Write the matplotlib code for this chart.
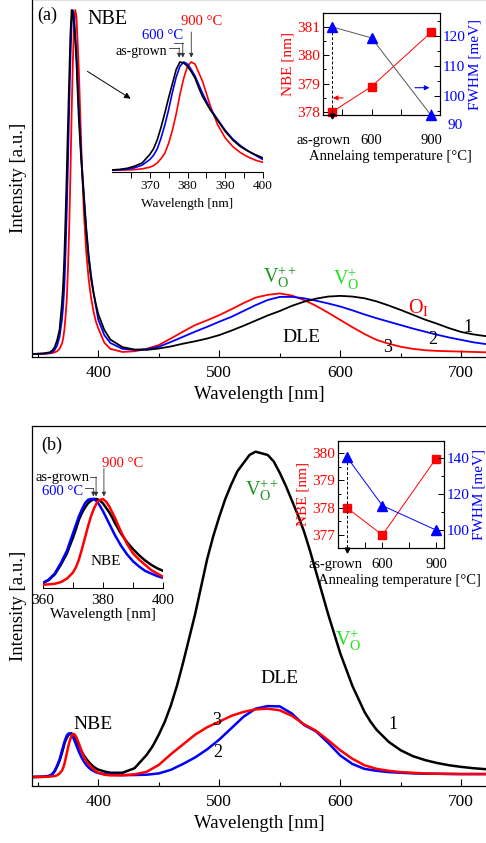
import numpy as np
import matplotlib
matplotlib.use('Agg')
import matplotlib.pyplot as plt
from matplotlib.ticker import MultipleLocator, FixedLocator
from matplotlib.transforms import blended_transform_factory, ScaledTranslation

plt.rcParams['font.family'] = ['Liberation Serif', 'DejaVu Serif']
plt.rcParams['mathtext.fontset'] = 'custom'
plt.rcParams['mathtext.rm'] = 'Liberation Serif'
plt.rcParams['mathtext.it'] = 'Liberation Serif:italic'

# ---------------- data ----------------
# NBE region (normalised), shared by main panels and the zoomed insets
nbe_wl = [346, 355, 360, 362, 364, 366, 368, 370, 371, 372, 373, 374, 375, 376, 377, 378,
          379, 380, 381, 382, 383, 384, 385, 386, 388, 390, 392, 394, 396, 398, 400]
nbe_a_black = [0, 0.002, 0.005, 0.01, 0.02, 0.04, 0.07, 0.147, 0.2, 0.284, 0.4, 0.53, 0.67, 0.8, 0.93, 1.0,
               0.99, 0.96, 0.91, 0.85, 0.76, 0.68, 0.62, 0.56, 0.46, 0.36, 0.28, 0.22, 0.18, 0.145, 0.116]
nbe_a_blue = [0, 0.001, 0.003, 0.006, 0.012, 0.025, 0.05, 0.1, 0.14, 0.2, 0.3, 0.42, 0.56, 0.72, 0.86, 0.96,
              1.0, 0.98, 0.93, 0.87, 0.79, 0.71, 0.64, 0.57, 0.47, 0.37, 0.29, 0.23, 0.18, 0.14, 0.1]
nbe_a_red = [0, 0, 0.002, 0.003, 0.005, 0.008, 0.015, 0.03, 0.045, 0.07, 0.11, 0.16, 0.25, 0.37, 0.52, 0.7,
             0.85, 0.96, 1.0, 0.98, 0.9, 0.82, 0.71, 0.6, 0.42, 0.3, 0.22, 0.165, 0.125, 0.095, 0.075]

nbe_b_black = [0, 0.005, 0.027, 0.065, 0.13, 0.24, 0.37, 0.55, 0.65, 0.76, 0.84, 0.9, 0.95, 0.98, 1.0, 1.0,
               0.98, 0.95, 0.9, 0.85, 0.79, 0.72, 0.66, 0.6, 0.5, 0.42, 0.35, 0.29, 0.24, 0.2, 0.17]
nbe_b_blue = [0, 0.006, 0.03, 0.07, 0.14, 0.26, 0.4, 0.6, 0.7, 0.8, 0.88, 0.95, 0.99, 1.0, 1.0, 0.97,
              0.92, 0.86, 0.79, 0.72, 0.65, 0.58, 0.52, 0.46, 0.36, 0.28, 0.22, 0.17, 0.14, 0.11, 0.09]
nbe_b_red = [0, 0.002, 0.01, 0.015, 0.022, 0.04, 0.08, 0.15, 0.21, 0.3, 0.42, 0.55, 0.68, 0.8, 0.89, 0.96,
             0.99, 1.0, 0.97, 0.92, 0.85, 0.78, 0.7, 0.62, 0.48, 0.37, 0.3, 0.24, 0.18, 0.14, 0.1]
# NBE peak heights in panel (b) relative to the DLE maximum of sample 1
nbe_b_peak = {'black': 0.134, 'blue': 0.134, 'red': 0.132}

# DLE region
dle_wl = [405, 410, 420, 430, 440, 450, 460, 470, 480, 490, 500, 510, 520, 530, 540, 550, 560,
          570, 580, 590, 600, 610, 620, 630, 640, 650, 660, 670, 680, 690, 700, 710, 720]
dle_a_black = [0.07, 0.042, 0.02, 0.013, 0.012, 0.016, 0.022, 0.03, 0.037, 0.045, 0.055, 0.068, 0.082, 0.097,
               0.112, 0.125, 0.14, 0.152, 0.161, 0.167, 0.169, 0.167, 0.162, 0.153, 0.141, 0.128, 0.114,
               0.1, 0.088, 0.075, 0.064, 0.057, 0.052]
dle_a_blue = [0.055, 0.032, 0.015, 0.012, 0.014, 0.021, 0.035, 0.05, 0.065, 0.079, 0.094, 0.108, 0.125, 0.142,
              0.157, 0.166, 0.166, 0.162, 0.155, 0.147, 0.138, 0.127, 0.115, 0.104, 0.094, 0.084, 0.074,
              0.065, 0.056, 0.048, 0.041, 0.034, 0.029]
dle_a_red = [0.033, 0.015, 0.006, 0.008, 0.015, 0.026, 0.045, 0.065, 0.084, 0.098, 0.113, 0.13, 0.148, 0.164,
             0.172, 0.176, 0.17, 0.157, 0.14, 0.12, 0.099, 0.078, 0.058, 0.041, 0.03, 0.021, 0.015,
             0.011, 0.009, 0.008, 0.007, 0.006, 0.005]

# panel (b) sample 1 has a big DLE band, read every 5 nm
dle_b_black_wl = [405, 410, 420, 430, 440, 445, 450, 455, 460, 465, 470, 475, 480, 485, 490, 495, 500,
                  505, 510, 515, 520, 525, 530, 535, 540, 545, 550, 555, 560, 565, 570, 575, 580,
                  585, 590, 595, 600, 605, 610, 615, 620, 625, 630, 640, 650, 660, 670, 680, 690,
                  700, 710, 720]
dle_b_black = [0.017, 0.013, 0.013, 0.027, 0.068, 0.095, 0.13, 0.17, 0.22, 0.28, 0.35, 0.425, 0.5, 0.585,
               0.67, 0.74, 0.8, 0.855, 0.9, 0.94, 0.965, 0.99, 1.0, 0.995, 0.99, 0.97, 0.935, 0.895,
               0.85, 0.805, 0.755, 0.695, 0.63, 0.565, 0.5, 0.44, 0.38, 0.33, 0.28, 0.24, 0.2, 0.17,
               0.145, 0.108, 0.082, 0.064, 0.052, 0.043, 0.036, 0.031, 0.027, 0.024]
dle_b_blue = [0.009, 0.007, 0.006, 0.006, 0.007, 0.011, 0.022, 0.04, 0.06, 0.085, 0.115, 0.15, 0.185, 0.21,
              0.218, 0.217, 0.195, 0.16, 0.14, 0.105, 0.066, 0.04, 0.025, 0.019, 0.015, 0.013, 0.011,
              0.01, 0.01, 0.009, 0.009, 0.009, 0.009]
dle_b_red = [0.007, 0.005, 0.005, 0.008, 0.016, 0.037, 0.07, 0.1, 0.13, 0.153, 0.17, 0.188, 0.2, 0.208,
             0.21, 0.205, 0.188, 0.162, 0.142, 0.113, 0.082, 0.056, 0.036, 0.025, 0.019, 0.015, 0.013,
             0.011, 0.01, 0.01, 0.009, 0.009, 0.009]

# annealing insets
anneal_x = [400, 600, 900]
anneal_labels = ['as-grown', '600', '900']
nbe_pos_a = [378.0, 378.9, 380.8]
fwhm_a = [123.0, 119.3, 93.5]
nbe_pos_b = [378.0, 377.0, 379.8]
fwhm_b = [140.5, 113.5, 100.0]

W, H = 486, 843


def rect(l, t, r, b):
    # pixel box -> figure fraction
    return [l / W, 1 - b / H, (r - l) / W, (b - t) / H]


def spectrum_axes(ax):
    ax.spines['right'].set_visible(False)
    ax.set_yticks([])
    ax.xaxis.set_major_locator(MultipleLocator(100))
    ax.xaxis.set_minor_locator(MultipleLocator(50))
    ax.tick_params(axis='x', which='major', direction='in', length=5, width=0.8, labelsize=12.5, pad=6)
    ax.tick_params(axis='x', which='minor', direction='in', length=3, width=0.8)
    ax.set_xlabel('Wavelength [nm]', fontsize=13.5, labelpad=3)
    ax.set_ylabel('Intensity [a.u.]', fontsize=13.5, labelpad=4)
    for s in ax.spines.values():
        s.set_linewidth(0.9)


def anneal_inset(rect_px, nbe, fwhm, xlim, yl, yr, ylt, yrt, yrmin, fwhm_line, labpad, xlab, asg_x):
    axl = fig.add_axes(rect(*rect_px))
    axr = axl.twinx()
    axl.plot(anneal_x, nbe, color='red', lw=0.7, marker='s', ms=6, mfc='red', mec='red',
             clip_on=False, zorder=5)
    axr.plot(anneal_x, fwhm, color=fwhm_line, lw=0.7, marker='^', ms=7.5, mfc='blue', mec='blue',
             clip_on=False, zorder=5)
    axl.set_xlim(*xlim)
    axl.set_ylim(*yl)
    axr.set_ylim(*yr)
    axl.set_yticks(ylt)
    axl.yaxis.set_minor_locator(MultipleLocator(0.5))
    axr.set_yticks(yrt)
    axr.yaxis.set_minor_locator(MultipleLocator(yrmin))
    axl.xaxis.set_major_locator(FixedLocator(anneal_x[1:]))
    axl.set_xticklabels(anneal_labels[1:])
    axl.tick_params(axis='x', which='both', direction='in', length=4, width=0.7, labelsize=10.5, pad=labpad)
    # the as-grown label sits a little left of its point, like in the original
    tr = blended_transform_factory(axl.transData, axl.transAxes) + \
        ScaledTranslation(0, -labpad / 72, fig.dpi_scale_trans)
    axl.text(asg_x, 0, anneal_labels[0], fontsize=10.5, ha='center', va='top', transform=tr, clip_on=False)
    axl.tick_params(axis='y', which='major', direction='in', length=4, width=0.7, labelsize=11,
                    labelcolor='red', pad=2)
    axl.tick_params(axis='y', which='minor', direction='in', length=2, width=0.7)
    axr.tick_params(axis='y', which='major', direction='in', length=4, width=0.7, labelsize=11,
                    labelcolor='blue', pad=2)
    axr.tick_params(axis='y', which='minor', direction='in', length=2, width=0.7)
    axl.set_xlabel(xlab, fontsize=10.5, labelpad=2, x=0.58)
    axl.set_ylabel('NBE [nm]', fontsize=11, color='red', labelpad=2)
    axr.set_ylabel('FWHM [meV]', fontsize=11, color='blue', labelpad=2)
    for s in axr.spines.values():
        s.set_linewidth(0.8)
    # dashed pointer under the as-grown point
    axr.plot([anneal_x[0], anneal_x[0]], [fwhm[0], yr[0]], color='k', ls='--', lw=0.7, dashes=(3, 2),
             clip_on=False, zorder=4)
    axr.plot(anneal_x[0], yr[0] - 0.012 * (yr[1] - yr[0]), marker='v', ms=3.5, color='k',
             clip_on=False, zorder=6)
    return axl, axr


fig = plt.figure(figsize=(W / 100, H / 100), dpi=100)

# ================= panel (a) =================
wl = nbe_wl + dle_wl
ax_a = fig.add_axes(rect(32.3, -1, 486, 357))
ax_a.plot(wl, nbe_a_red + dle_a_red, color='red', lw=1.3)
ax_a.plot(wl, nbe_a_blue + dle_a_blue, color='blue', lw=1.3)
ax_a.plot(wl, nbe_a_black + dle_a_black, color='black', lw=1.3)
ax_a.set_xlim(345.5, 720.4)
ax_a.set_ylim(-0.0087, 1.032)
spectrum_axes(ax_a)

ax_a.text(357.6, 0.985, '(a)', fontsize=13, ha='center', va='center')
ax_a.text(407.3, 0.971, 'NBE', fontsize=14.5, ha='center', va='center')
ax_a.text(550.1, 0.224, r'$\mathrm{V}_{\mathrm{O}}^{++}$', fontsize=14.5, color='#1e961e', ha='center', va='center')
ax_a.text(604.6, 0.218, r'$\mathrm{V}_{\mathrm{O}}^{+}$', fontsize=14.5, color='#22e022', ha='center', va='center')
ax_a.text(664.5, 0.134, r'$\mathrm{O}_{\mathrm{I}}$', fontsize=14.5, color='red', ha='center', va='center')
ax_a.text(568.3, 0.049, 'DLE', fontsize=14, ha='center', va='center')
ax_a.text(705.5, 0.078, '1', fontsize=13, ha='center', va='center')
ax_a.text(676.6, 0.041, '2', fontsize=13, ha='center', va='center')
ax_a.text(639.4, 0.020, '3', fontsize=13, ha='center', va='center')
ax_a.annotate('', xy=(428.7, 0.738), xytext=(389.1, 0.826),
              arrowprops=dict(arrowstyle='-|>', color='k', lw=0.7, mutation_scale=9))

# inset (a): zoom on NBE
ia = fig.add_axes(rect(112, 55, 263, 172))
ia.patch.set_alpha(0)
ia.plot(nbe_wl, nbe_a_red, color='red', lw=1.2)
ia.plot(nbe_wl, nbe_a_blue, color='blue', lw=1.2)
ia.plot(nbe_wl, nbe_a_black, color='black', lw=1.2)
ia.set_xlim(360, 400)
ia.set_ylim(-0.014, 1.064)
for s in ['left', 'top', 'right']:
    ia.spines[s].set_visible(False)
ia.set_yticks([])
ia.xaxis.set_major_locator(FixedLocator([370, 380, 390, 400]))
ia.xaxis.set_minor_locator(FixedLocator([365, 375, 385, 395]))
ia.tick_params(axis='x', which='both', direction='out', length=4, width=0.7, labelsize=9.5, pad=2)
ia.set_xlabel('Wavelength [nm]', fontsize=9.5, labelpad=4)
arr = dict(arrowstyle='-|>', color='#333333', lw=0.6, mutation_scale=6, shrinkA=0, shrinkB=0)
ia.text(374.7, 1.092, 'as-grown', fontsize=10, ha='right', va='center', clip_on=False)
ia.plot([375.2, 377.8], [1.129, 1.129], color='#333333', lw=0.6, clip_on=False)
ia.annotate('', xy=(377.8, 1.04), xytext=(377.8, 1.129), arrowprops=arr, annotation_clip=False)
ia.text(373.5, 1.24, '600 °C', fontsize=10.5, color='blue', ha='center', va='center', clip_on=False)
ia.plot([376.3, 378.75], [1.175, 1.175], color='#333333', lw=0.6, clip_on=False)
ia.annotate('', xy=(378.75, 1.04), xytext=(378.75, 1.175), arrowprops=arr, annotation_clip=False)
ia.text(383.8, 1.369, '900 °C', fontsize=10.5, color='red', ha='center', va='center', clip_on=False)
ia.annotate('', xy=(381.0, 1.04), xytext=(381.0, 1.276), arrowprops=arr, annotation_clip=False)

# inset (a): annealing dependence
axl_a, axr_a = anneal_inset((322.7, 13.3, 440, 115), nbe_pos_a, fwhm_a, (354, 945),
                            (377.9, 381.47), (93.6, 127.5), [378, 379, 380, 381], [100, 110, 120],
                            5, '#555555', 14, 'Annelaing temperature [°C]', 356)
axl_a.xaxis.set_minor_locator(FixedLocator([450, 750]))
axr_a.text(1.068, 90, '90', color='blue', fontsize=11, ha='left', va='center',
           transform=blended_transform_factory(axr_a.transAxes, axr_a.transData), clip_on=False)
axl_a.annotate('', xy=(391, 378.5), xytext=(471, 378.5),
               arrowprops=dict(arrowstyle='-|>', color='red', lw=0.8, mutation_scale=7))
axr_a.annotate('', xy=(906, 102.7), xytext=(805, 102.7),
               arrowprops=dict(arrowstyle='-|>', color='blue', lw=0.8, mutation_scale=7))


# ================= panel (b) =================
def scaled(nbe, peak):
    return [v * peak for v in nbe]


ax_b = fig.add_axes(rect(32.3, 426, 486, 786))
ax_b.plot(nbe_wl + dle_b_black_wl, scaled(nbe_b_black, nbe_b_peak['black']) + dle_b_black,
          color='black', lw=1.8)
ax_b.plot(wl, scaled(nbe_b_blue, nbe_b_peak['blue']) + dle_b_blue, color='blue', lw=1.8)
ax_b.plot(wl, scaled(nbe_b_red, nbe_b_peak['red']) + dle_b_red, color='red', lw=1.8)
ax_b.set_xlim(345.5, 720.4)
ax_b.set_ylim(-0.0277, 1.079)
spectrum_axes(ax_b)

ax_b.text(361.8, 1.021, '(b)', fontsize=13, ha='center', va='center')
ax_b.text(535.4, 0.882, r'$\mathrm{V}_{\mathrm{O}}^{++}$', fontsize=14.5, color='#1e961e', ha='center', va='center')
ax_b.text(606.5, 0.421, r'$\mathrm{V}_{\mathrm{O}}^{+}$', fontsize=14.5, color='#22e022', ha='center', va='center')
ax_b.text(550.1, 0.304, 'DLE', fontsize=14, ha='center', va='center')
ax_b.text(395.7, 0.160, 'NBE', fontsize=14, ha='center', va='center')
ax_b.text(498.1, 0.175, '3', fontsize=13, ha='center', va='center')
ax_b.text(498.9, 0.074, '2', fontsize=13, ha='center', va='center')
ax_b.text(643.6, 0.160, '1', fontsize=13, ha='center', va='center')

# inset (b): zoom on NBE
ib = fig.add_axes(rect(42.7, 490, 163.3, 588))
ib.patch.set_alpha(0)
ib.plot(nbe_wl, nbe_b_black, color='black', lw=1.8)
ib.plot(nbe_wl, nbe_b_blue, color='blue', lw=1.8)
ib.plot(nbe_wl, nbe_b_red, color='red', lw=1.8)
ib.set_xlim(360, 400)
ib.set_ylim(-0.027, 1.104)
for s in ['left', 'top', 'right']:
    ib.spines[s].set_visible(False)
ib.set_yticks([])
ib.xaxis.set_major_locator(FixedLocator([360, 380, 400]))
ib.xaxis.set_minor_locator(FixedLocator([370, 390]))
ib.tick_params(axis='x', which='both', direction='in', length=4, width=0.7, labelsize=11, pad=4)
ib.set_xlabel('Wavelength [nm]', fontsize=11, labelpad=1)
ib.text(381.0, 0.277, 'NBE', fontsize=11, ha='center', va='center')
ib.text(375.4, 1.254, 'as-grown', fontsize=10.5, ha='right', va='center', clip_on=False)
ib.plot([375.6, 377.7], [1.254, 1.254], color='#333333', lw=0.6, clip_on=False)
ib.annotate('', xy=(377.7, 1.03), xytext=(377.7, 1.254), arrowprops=arr, annotation_clip=False)
ib.text(366.6, 1.084, '600 °C', fontsize=10.5, color='blue', ha='center', va='center', clip_on=False)
ib.plot([374.1, 376.8], [1.123, 1.123], color='#333333', lw=0.6, clip_on=False)
ib.annotate('', xy=(376.8, 1.03), xytext=(376.8, 1.123), arrowprops=arr, annotation_clip=False)
ib.text(386.5, 1.412, '900 °C', fontsize=10.5, color='red', ha='center', va='center', clip_on=False)
ib.annotate('', xy=(380.3, 1.03), xytext=(380.3, 1.354), arrowprops=arr, annotation_clip=False)

# inset (b): annealing dependence
axl_b, axr_b = anneal_inset((338.3, 440.7, 444.3, 548.3), nbe_pos_b, fwhm_b, (353, 946.7),
                            (376.51, 380.46), (89.9, 149.4), [377, 378, 379, 380], [100, 120, 140],
                            10, 'blue', 7, 'Annealing temperature [°C]', 340)
axl_b.xaxis.set_minor_locator(FixedLocator([500, 750]))

fig.savefig('out.png', dpi=100)
